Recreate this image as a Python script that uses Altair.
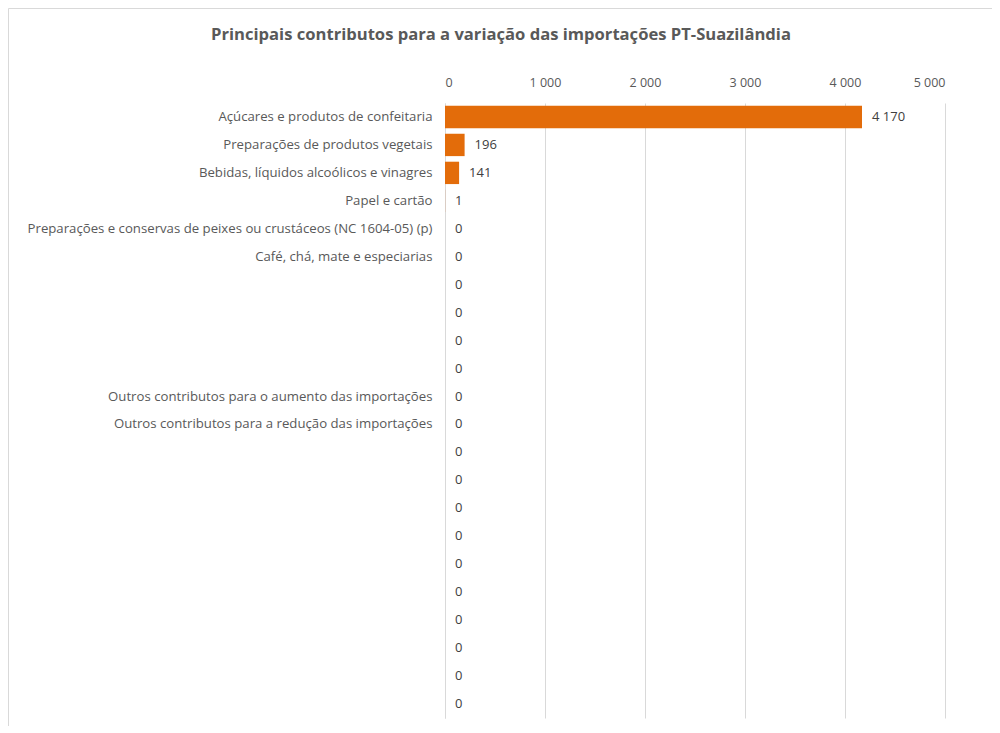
import altair as alt
import pandas as pd

categories = [
    "Açúcares e produtos de confeitaria",
    "Preparações de produtos vegetais",
    "Bebidas, líquidos alcoólicos e vinagres",
    "Papel e cartão",
    "Preparações e conservas de peixes ou crustáceos (NC 1604-05) (p)",
    "Café, chá, mate e especiarias",
    "", "", "", "",
    "Outros contributos para o aumento das importações",
    "Outros contributos para a redução das importações",
    "", "", "", "", "", "", "", "", "", "",
]
values = [4170, 196, 141, 1, 0, 0, 0, 0, 0, 0, 0, 0, 0, 0, 0, 0, 0, 0, 0, 0, 0, 0]
title_text = "Principais contributos para a variação das importações PT-Suazilândia"

# blank rows need distinct keys: pad with a growing run of spaces
keys = []
for i, c in enumerate(categories):
    keys.append(c if c else " " * (i + 1))

df = pd.DataFrame({"cat": keys, "value": values})

FONT = "Open Sans"
GREY = "#595959"

base = alt.Chart(df).encode(
    y=alt.Y("cat:N", sort=None, title=None,
            scale=alt.Scale(paddingInner=0.2, paddingOuter=0.1),
            axis=alt.Axis(ticks=False, domain=True, domainColor="#D9D9D9",
                          labelColor=GREY, labelFont=FONT, labelFontSize=13.2,
                          labelPadding=13, labelLimit=500)),
)

bars = base.mark_bar(color="#E36C0A").encode(
    x=alt.X("value:Q", title=None,
            scale=alt.Scale(domain=[0, 5000], nice=False),
            axis=alt.Axis(orient="top", values=[0, 1000, 2000, 3000, 4000, 5000],
                          labelExpr="replace(format(datum.value, ','), ',', ' ')",
                          ticks=False, domain=False, grid=True, gridColor="#D9D9D9",
                          labelColor=GREY, labelFont=FONT, labelFontSize=12.5,
                          labelPadding=14)),
)

labels = base.transform_calculate(
    lab="replace(format(datum.value, ','), ',', ' ')"
).mark_text(align="left", baseline="middle", dx=10, font=FONT, fontSize=13,
            color="#404040").encode(
    x="value:Q",
    text="lab:N",
)

one = pd.DataFrame({"t": [title_text]})

title = alt.Chart(one).mark_text(
    align="center", baseline="middle", font=FONT, fontSize=16.6,
    fontWeight="bold", color=GREY,
).encode(x=alt.value(56), y=alt.value(-68), text="t:N")

frame_top = alt.Chart(one).mark_rule(color="#D9D9D9", strokeWidth=1, clip=False).encode(
    x=alt.value(-436.5), x2=alt.value(600), y=alt.value(-94.5)
)
frame_left = alt.Chart(one).mark_rule(color="#D9D9D9", strokeWidth=1, clip=False).encode(
    x=alt.value(-436.5), y=alt.value(-94.5), y2=alt.value(640)
)

chart = alt.layer(frame_top, frame_left, bars, labels, title).properties(
    width=500, height=615,
    autosize=alt.AutoSizeParams(type="none"),
    padding={"left": 437, "top": 95, "right": 47, "bottom": 8},
).configure_view(stroke=None)

chart.save("out.html", embed_options={"renderer": "svg", "actions": False})
